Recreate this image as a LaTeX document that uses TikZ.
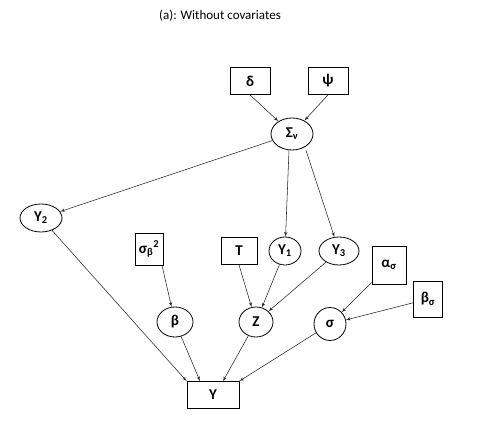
\documentclass[tikz,border=0pt]{standalone}
\usepackage{fontspec}
\setmainfont{Carlito}
\usetikzlibrary{arrows,shapes.geometric}

\begin{document}
\begin{tikzpicture}[x=1pt,y=-1pt,font=\fontsize{15}{17}\selectfont\bfseries,
    line/.style={draw=black!85, -latex', line width=0.55pt},
    param/.style={draw, line width=0.8pt, inner sep=0pt},
    latent/.style={draw, ellipse, line width=0.8pt, inner sep=0pt},
    ]
    \useasboundingbox (0,0) rectangle (477,427);
    \node [font=\fontsize{13}{15}\selectfont] at (220,16) (title) {(a): Without covariates};

    % Place nodes
    \node [param, minimum width=40, minimum height=27] at (250,81) (delta) {δ};
    \node [param, minimum width=40, minimum height=27] at (328,81) (psi) {ψ};
    \node [latent, minimum width=42, minimum height=32] at (292,134) (sig) {Σ\textsubscript{ν}};
    \node [latent, minimum width=42, minimum height=28] at (41,218) (ups2) {Υ\textsubscript{2}};
    \node [param, minimum width=28, minimum height=32] at (149,249) (sb) {σ\textsubscript{β}\textsuperscript{2}};
    \node [param, minimum width=36, minimum height=27] at (239,251) (T) {T};
    \node [latent, minimum width=32, minimum height=28] at (285,251) (ups1) {Υ\textsubscript{1}};
    \node [latent, minimum width=40, minimum height=28] at (339,251) (ups3) {Υ\textsubscript{3}};
    \node [param, minimum width=34, minimum height=38] at (389,265) (as) {α\textsubscript{σ}};
    \node [param, minimum width=29, minimum height=36] at (428,299) (bs) {β\textsubscript{σ}};
    \node [latent, minimum width=36, minimum height=30] at (175,322) (beta) {β};
    \node [latent, minimum width=34, minimum height=30] at (256,322) (Z) {Z};
    \node [latent, minimum width=32, minimum height=33] at (330,324) (sigma) {σ};
    \node [param, minimum width=52, minimum height=27] at (213,395) (Y) {Υ};

    % Draw edges
    \path [line] (delta.south) -- (sig);
    \path [line] (psi.south) -- (sig);
    \path [line] (sig) -- (ups2);
    \path [line] ([xshift=-3]sig.south) -- (ups1);
    \path [line] ([xshift=14]sig.south) -- (ups3);
    \path [line] ([xshift=13]sb.south) -- (beta);
    \path [line] (T.south) -- (Z);
    \path [line] (ups1) -- (Z);
    \path [line] (ups3) -- (Z);
    \path [line] (as) -- (sigma);
    \path [line] (bs) -- (sigma);
    \path [line] (ups2) -- (Y.north west);
    \path [line] (beta) -- ([xshift=-13]Y.north);
    \path [line] (Z) -- ([xshift=10]Y.north);
    \path [line] (sigma) -- (Y.north east);
\end{tikzpicture}
\end{document}
